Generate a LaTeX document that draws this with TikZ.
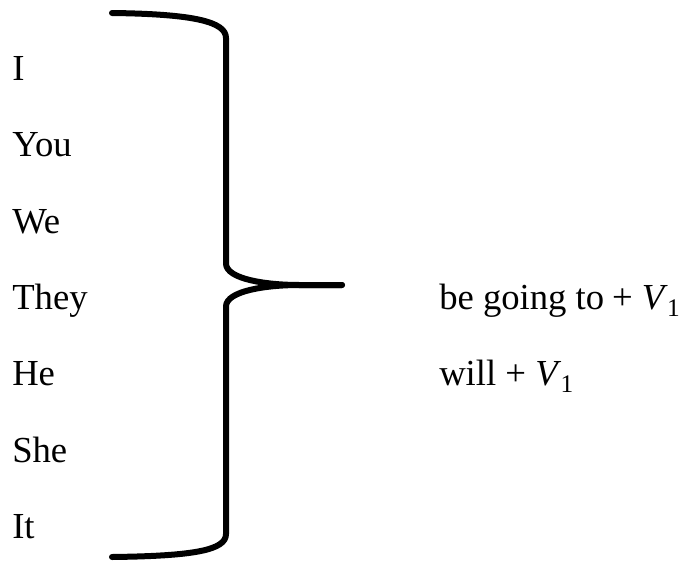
\documentclass[tikz,border=0pt]{standalone}
\usepackage{fontspec}
\setmainfont{Liberation Serif}
\newcommand{\vone}{\textit{V}\kern-0.5pt\raisebox{-0.2em}{\fontsize{19}{19}\selectfont 1}}
\begin{document}
\begin{tikzpicture}[x=0.75pt,y=-0.75pt,
  word/.style={anchor=base west,inner sep=0pt,font=\fontsize{27.5}{31}\selectfont},
  bracestyle/.style={line width=4.5pt,line cap=round,line join=round}]
\useasboundingbox (0,0) rectangle (682,561);
\node[word] (i) at (12,80) {I};
\node[word] (you) at (12,156) {You};
\node[word] (we) at (12,233) {We};
\node[word] (they) at (12,309) {They};
\node[word] (he) at (12,385) {He};
\node[word] (she) at (12,462) {She};
\node[word] (it) at (12,538) {It};
\node[word] (bgt) at (439,309) {be going to\kern-1pt{} + \vone};
\node[word] (will) at (439,385) {will + \vone};
\coordinate (top) at (112,13);
\coordinate (tip) at (342,285);
\coordinate (bot) at (112,557);
\draw[bracestyle] (top) .. controls (195,14) and (226,22) .. (226,38)
  -- (226,264) .. controls (227,279) and (265,285) .. (300,285) -- (tip);
\draw[bracestyle] (tip) -- (300,285) .. controls (265,285) and (227,291) .. (226,306)
  -- (226,534) .. controls (226,550) and (195,556) .. (bot);
\end{tikzpicture}
\end{document}
